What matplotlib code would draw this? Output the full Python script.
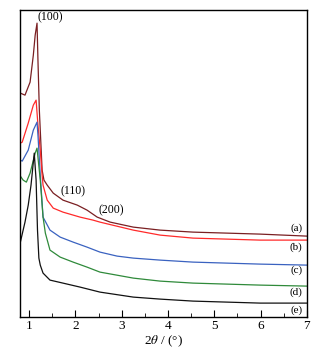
import numpy as np
import matplotlib
matplotlib.use("Agg")
import matplotlib.pyplot as plt
from matplotlib.ticker import MultipleLocator

# two-theta (deg) and intensity (a.u.), curves (a)-(e)
x_a = [0.81, 0.91, 1.02, 1.09, 1.13, 1.17, 1.19, 1.22, 1.26, 1.28, 1.32, 1.39, 1.52, 1.73, 2.04, 2.25, 2.47, 2.75, 3.25, 3.83, 4.54, 5.99, 7.0]
y_a = [224, 222, 235, 262, 282, 294, 257, 207, 167, 147, 137, 132, 124, 117, 112, 107, 100, 95, 90, 87, 85, 83, 81]

x_b = [0.81, 0.85, 0.98, 1.09, 1.15, 1.19, 1.24, 1.28, 1.30, 1.39, 1.52, 1.73, 2.10, 2.38, 2.53, 3.25, 3.83, 4.54, 5.99, 7.0]
y_b = [174, 175, 194, 212, 217, 192, 167, 142, 132, 117, 109, 105, 100, 97, 95, 87, 82, 79, 77, 77]

x_c = [0.81, 0.85, 0.98, 1.09, 1.17, 1.19, 1.24, 1.30, 1.45, 1.67, 1.95, 2.25, 2.53, 2.90, 3.25, 3.83, 4.54, 5.99, 7.0]
y_c = [157, 156, 167, 187, 195, 182, 142, 100, 87, 80, 75, 70, 65, 61, 59, 57, 55, 53, 52]

x_d = [0.81, 0.87, 0.94, 1.02, 1.13, 1.17, 1.24, 1.30, 1.35, 1.45, 1.67, 1.95, 2.25, 2.53, 3.25, 3.83, 4.54, 5.99, 7.0]
y_d = [141, 137, 135, 144, 164, 169, 137, 100, 84, 67, 60, 55, 50, 45, 39, 36, 34, 32, 31]

x_e = [0.81, 0.91, 0.98, 1.04, 1.11, 1.15, 1.18, 1.21, 1.24, 1.30, 1.45, 1.73, 2.10, 2.53, 3.25, 3.83, 4.54, 5.99, 7.0]
y_e = [75, 95, 112, 132, 164, 137, 87, 59, 52, 44, 37, 34, 30, 25, 20, 18, 16, 14, 14]

labels = ["(a)", "(b)", "(c)", "(d)", "(e)"]
label_y = [89, 70, 47, 25, 7]
colors = ["#7a1f22", "#ff2a2a", "#3a62c0", "#2f8a3a", "#111111"]
curves = [(x_a, y_a), (x_b, y_b), (x_c, y_c), (x_d, y_d), (x_e, y_e)]

# peak labels: text, x, y
peaks = [("(100)", 1.17, 300), ("(110)", 1.67, 126), ("(200)", 2.49, 107)]

plt.rcParams["font.family"] = ["Liberation Serif", "DejaVu Serif"]
plt.rcParams["mathtext.fontset"] = "stix"

fig = plt.figure(figsize=(3.21, 3.5), dpi=100)
ax = fig.add_axes([0.062, 0.094, 0.894, 0.877])

for (xs, ys), col in zip(curves, colors):
    ax.plot(xs, ys, color=col, lw=0.9)

for lab, ly in zip(labels, label_y):
    ax.text(6.77, ly, lab, fontsize=8, ha="center", va="center")

for t, px, py in peaks:
    ax.text(px, py, t, fontsize=8.5, ha="left", va="center")

ax.set_xlim(0.8, 7)
ax.set_ylim(0, 307)
ax.set_yticks([])
ax.xaxis.set_major_locator(MultipleLocator(1))
ax.xaxis.set_minor_locator(MultipleLocator(0.5))
ax.tick_params(axis="x", which="major", direction="in", length=5, labelsize=9.5, pad=2)
ax.tick_params(axis="x", which="minor", direction="in", length=3)
ax.set_xlabel("2$\\mathit{\\theta}$ / (°)", fontsize=9.5, labelpad=1)
for s in ax.spines.values():
    s.set_linewidth(1.0)

fig.savefig("out.png", dpi=100)
